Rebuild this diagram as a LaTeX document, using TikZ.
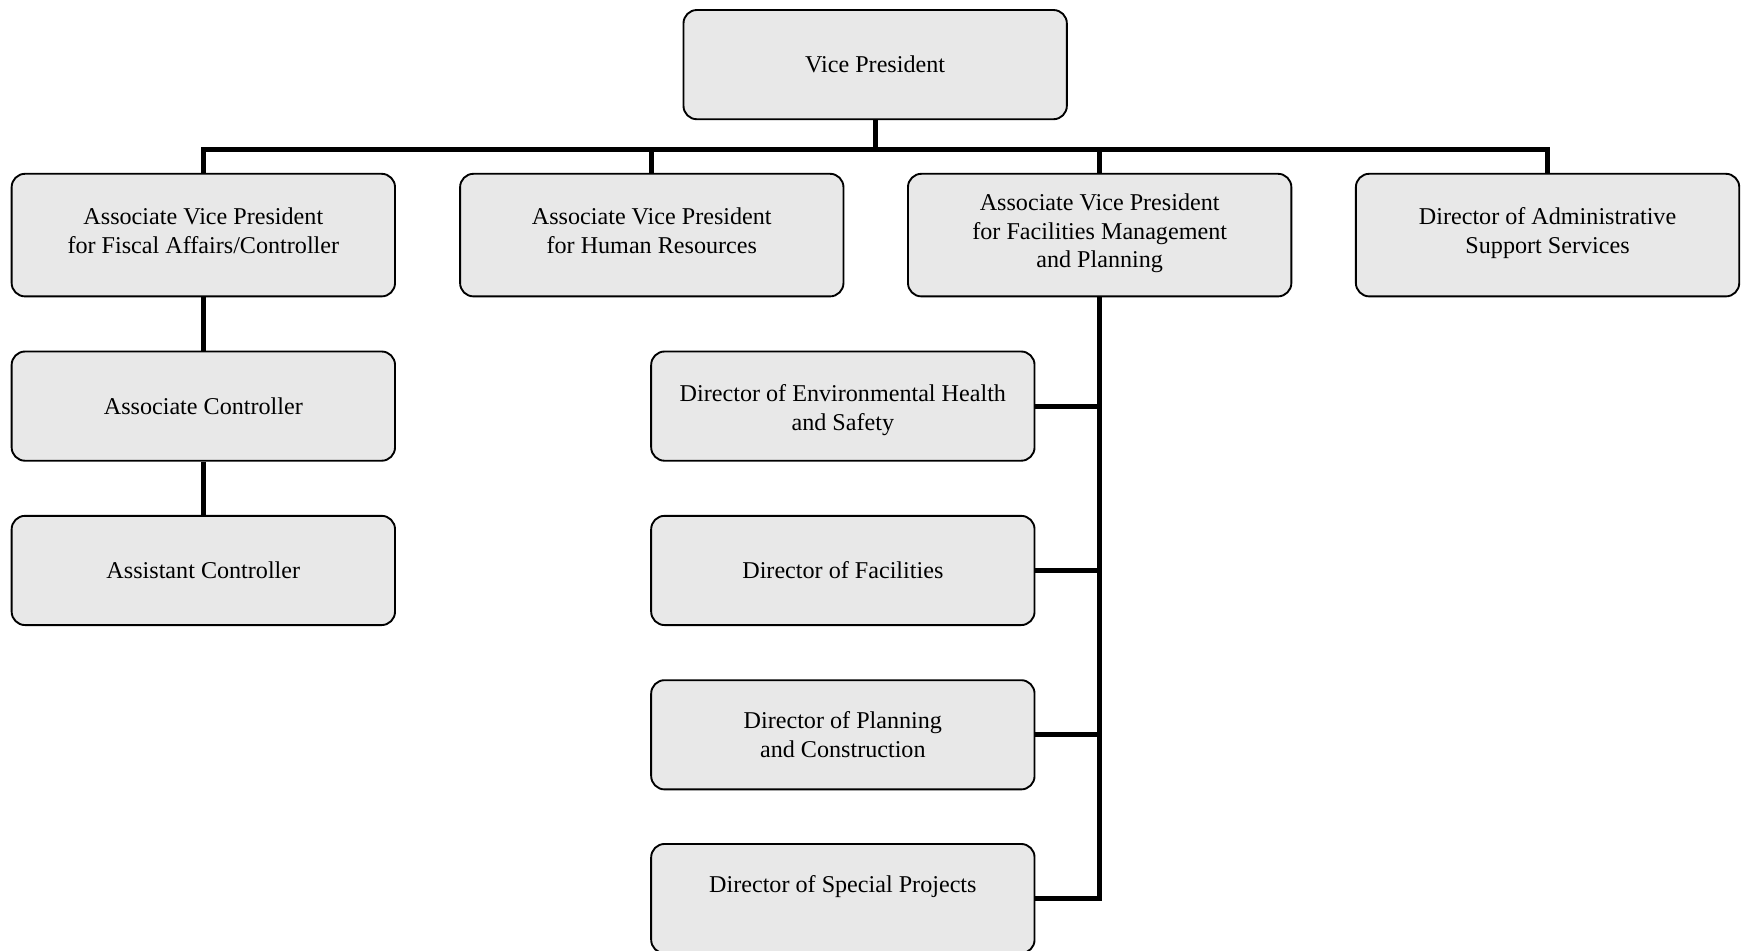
\documentclass[tikz,border=0pt]{standalone}
\usepackage{fontspec}
\setmainfont{Liberation Serif}
\usetikzlibrary{positioning}
\tikzset{
  post/.style={draw=black, line width=1.2pt, fill=gray!18, rounded corners=0.3cm,
    minimum width=8.6cm, minimum height=2.45cm, align=center, inner sep=0pt},
  toppost/.style={post, minimum height=2.75cm},
  wire/.style={line width=3.2pt}
}
\begin{document}
\begin{tikzpicture}[x=0.025cm, y=-0.025cm, font=\fontsize{15.4}{18.3}\selectfont]
        \useasboundingbox (0,0) rectangle (1568,853.5);
        % top
        \node[post] (vp) at (785.5,58) {Vice President};
        % second row
        \node[toppost] (fiscal) at (182.5,211) {Associate Vice President\\for Fiscal Affairs/Controller\\[-12.6pt]\mbox{}};
        \node[toppost] (hr) at (585,211) {Associate Vice President\\for Human Resources\\[-12.6pt]\mbox{}};
        \node[toppost] (fmp) at (987,211) {Associate Vice President\\for Facilities Management\\and Planning\\[-12.6pt]\mbox{}};
        \node[toppost] (admin) at (1389,211) {Director of Administrative\\Support Services\\[-12.6pt]\mbox{}};
        % controller column
        \node[post] (assoc) at (182.5,364.5) {Associate Controller};
        \node[post] (asst) at (182.5,512) {Assistant Controller};
        % facilities column
        \node[post] (env) at (756.5,364.5) {\mbox{}\\[-2pt]Director of Environmental Health\\and Safety};
        \node[post] (dfac) at (756.5,512) {Director of Facilities};
        \node[post] (plan) at (756.5,659.5) {Director of Planning\\and Construction};
        \node[post] (spec) at (756.5,806.5) {Director of Special Projects\\\mbox{}};
        % connectors
        \coordinate (bus) at (785.5,134);
        \draw[wire] (vp.south) -- (bus);
        \draw[wire] (bus) -| (fiscal.north);
        \draw[wire] (bus) -| (hr.north);
        \draw[wire] (bus) -| (fmp.north);
        \draw[wire] (bus) -| (admin.north);
        \draw[wire] (fiscal.south) -- (assoc.north);
        \draw[wire] (assoc.south) -- (asst.north);
        \draw[wire] (fmp.south) |- (env.east);
        \draw[wire] (fmp.south) |- (dfac.east);
        \draw[wire] (fmp.south) |- (plan.east);
        \draw[wire] (fmp.south) |- (spec.east);
\end{tikzpicture}
\end{document}
